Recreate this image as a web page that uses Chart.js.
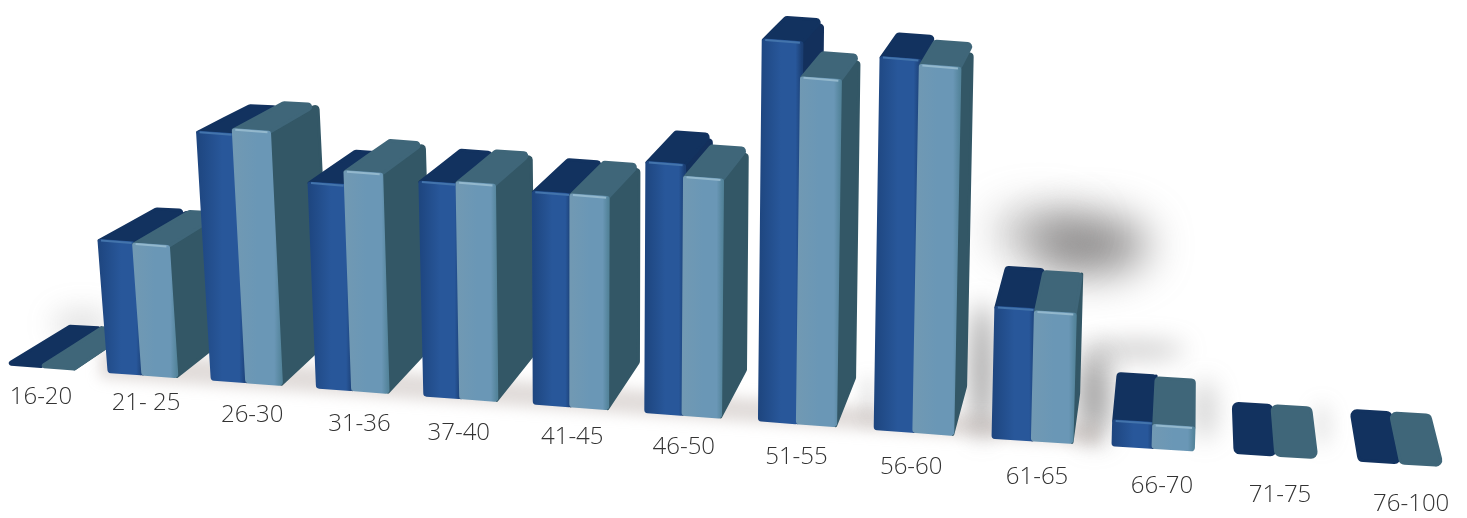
<!DOCTYPE html>
<html>
<head>
<meta charset="utf-8">
<title>Age groups</title>
<script src="https://cdn.jsdelivr.net/npm/chart.js@4/dist/chart.umd.min.js"></script>
<style>
  html, body { margin: 0; padding: 0; background: #ffffff; }
  canvas { display: block; }
</style>
</head>
<body>
<canvas id="ageChart" width="1467" height="518"></canvas>
<script>
const ageGroups = ["16-20", "21- 25", "26-30", "31-36", "37-40", "41-45", "46-50", "51-55", "56-60", "61-65", "66-70", "71-75", "76-100"];
const seriesA = [0, 131, 247, 204, 213, 211, 249, 380, 371, 130, 24, 0, 0];
const seriesB = [0, 130, 252, 218, 215, 211, 237, 345, 366, 128, 22, 0, 0];
const yMax = 400;

// where the labels sit relative to the perspective floor
const labelCenterOffset = [33, 37, 40, 42, 34, 38, 38, 37, 36, 44, 49, 45, 52];
const labelDrop = [33, 32, 36, 37, 38, 34, 36, 37, 39, 40, 41, 43, 44];

const blueFaces = { edge: "#1e4680", mid: "#28579a", dark: "#1b3f74", top: "#12325f", side: "#13305c", shine: "#4374ac" };
const tealFaces = { edge: "#7199b3", mid: "#6a97b6", dark: "#54849b", top: "#3f6679", side: "#335766", shine: "#93b8cd" };

// soft shadows on the paper: x, y, radius x, radius y, opacity, blur
const shadowBlobs = [
  [1090, 245, 58, 28, 0.8, 22],
  [1040, 232, 48, 22, 0.45, 22],
  [1094, 395, 14, 46, 0.75, 14],
  [1135, 350, 50, 8, 0.4, 12],
  [1205, 410, 10, 30, 0.35, 12],
  [982, 370, 10, 68, 0.7, 12],
  [1322, 425, 8, 22, 0.2, 10],
  [82, 324, 30, 14, 0.22, 14],
  [868, 400, 6, 26, 0.2, 8],
];

const floorY = (x) => 364 + 0.0745 * (x - 8) - Math.max(0, x - 1000) * 0.012;
const leanAt = (x) => (560 - x) * (x < 560 ? 0.00017 : 0.00005);

function depthOf(p) {
  const dx = (1200 - p.x) * 0.052;
  const ease = Math.max(0, 1 - p.x / 300) * 6;
  return { x: p.x + dx, y: p.y - (20 + 0.065 * p.y) + ease };
}

// category scale pixel -> position on the slanted floor
function floorXFor(chart) {
  const first = chart.getDatasetMeta(0).data[0];
  const step = chart.scales.x.width / ageGroups.length;
  const origin = first.x - first.width / 2;
  return (u) => {
    const v = (u - origin) / step;
    return 8 + 100 * v + 1.05 * v * v;
  };
}

function tracePath(ctx, pts, radii) {
  const last = pts[pts.length - 1];
  ctx.beginPath();
  ctx.moveTo((last.x + pts[0].x) / 2, (last.y + pts[0].y) / 2);
  pts.forEach((p, i) => {
    const next = pts[(i + 1) % pts.length];
    ctx.arcTo(p.x, p.y, next.x, next.y, radii[i]);
  });
  ctx.closePath();
}

function fillFace(ctx, pts, color, radii) {
  tracePath(ctx, pts, radii);
  ctx.fillStyle = color;
  ctx.strokeStyle = color;
  ctx.lineWidth = 3;
  ctx.lineJoin = "round";
  ctx.fill();
  ctx.stroke();
}

function drawBlock(ctx, left, right, height, faces) {
  const bl = { x: left, y: floorY(left) };
  const br = { x: right, y: floorY(right) };
  const tl = { x: left - height * leanAt(left), y: bl.y - height };
  const tr = { x: right - height * leanAt(right), y: br.y - height };
  const btl = depthOf(tl);
  const btr = depthOf(tr);
  const depth = btr.x - tr.x;

  if (depth > 1.5) {
    const r = depth > 8 ? 3 : 0;
    fillFace(ctx, [tr, br, depthOf(br), btr], faces.side, [0, 0, r, r]);
  }

  if (height > 0) {
    fillFace(ctx, [tl, tr, btr, btl], faces.top, [0, 0, 3, 3]);

    const grad = ctx.createLinearGradient(Math.min(tl.x, bl.x), 0, Math.max(tr.x, br.x), 0);
    grad.addColorStop(0, faces.edge);
    grad.addColorStop(0.5, faces.mid);
    grad.addColorStop(0.85, faces.mid);
    grad.addColorStop(1, faces.dark);
    fillFace(ctx, [tl, tr, br, bl], grad, [1, 1, 2, 2]);

    ctx.beginPath();
    ctx.moveTo(tl.x + 2, tl.y);
    ctx.lineTo(tr.x - 2, tr.y);
    ctx.strokeStyle = faces.shine;
    ctx.lineWidth = 2;
    ctx.stroke();
  } else {
    // flat groups: only the lid shows
    const r = depth > 30 ? 1 : 5;
    fillFace(ctx, [tl, tr, btr, btl], faces.top, [r, r, r, r]);
  }
}

const blocks3d = {
  id: "blocks3d",
  beforeDraw(chart) {
    const { ctx, scales } = chart;
    const floorX = floorXFor(chart);
    const metaA = chart.getDatasetMeta(0).data;

    // tick labels follow the slanted floor
    scales.x.getLabelItems().forEach((item, i) => {
      const groupLeft = floorX(metaA[i].x - metaA[i].width / 2);
      item.options.translation = [groupLeft + labelCenterOffset[i], floorY(groupLeft) + labelDrop[i]];
      item.options.textAlign = "center";
      item.options.textBaseline = "middle";
      item.textOffset = 0;
    });

    ctx.save();
    shadowBlobs.forEach(([x, y, rx, ry, alpha, blur]) => {
      ctx.filter = `blur(${blur}px)`;
      ctx.beginPath();
      ctx.ellipse(x, y, rx, ry, 0, 0, Math.PI * 2);
      ctx.fillStyle = `rgba(110, 108, 108, ${alpha})`;
      ctx.fill();
    });
    // faint halo along the floor
    ctx.filter = "blur(7px)";
    ctx.beginPath();
    ctx.moveTo(100, 350);
    ctx.lineTo(1100, 424);
    ctx.lineTo(1100, 446);
    ctx.lineTo(100, 378);
    ctx.closePath();
    ctx.fillStyle = "rgba(170, 155, 150, 0.35)";
    ctx.fill();
    ctx.restore();
  },
  beforeDatasetsDraw(chart) {
    const { ctx, scales } = chart;
    const metaA = chart.getDatasetMeta(0).data;
    const metaB = chart.getDatasetMeta(1).data;
    const floorX = floorXFor(chart);
    const stretch = yMax / scales.y.height;

    ctx.save();
    ageGroups.forEach((_, i) => {
      [[metaA[i], blueFaces], [metaB[i], tealFaces]].forEach(([bar, faces]) => {
        const left = floorX(bar.x - bar.width / 2);
        const right = floorX(bar.x + bar.width / 2);
        drawBlock(ctx, left, right, (bar.base - bar.y) * stretch, faces);
      });
    });
    ctx.restore();
    return false;
  },
};

new Chart(document.getElementById("ageChart"), {
  type: "bar",
  data: {
    labels: ageGroups,
    datasets: [
      { label: "A", data: seriesA, backgroundColor: blueFaces.mid, categoryPercentage: 0.66, barPercentage: 1 },
      { label: "B", data: seriesB, backgroundColor: tealFaces.mid, categoryPercentage: 0.66, barPercentage: 1 },
    ],
  },
  options: {
    responsive: false,
    animation: false,
    plugins: { legend: { display: false }, tooltip: { enabled: false } },
    scales: {
      x: {
        grid: { display: false },
        border: { display: false },
        ticks: {
          mirror: true,
          autoSkip: false,
          maxRotation: 0,
          color: "#333333",
          font: { family: "'Open Sans', sans-serif", size: 24, weight: "300" },
        },
      },
      y: { display: false, min: 0, max: yMax },
    },
  },
  plugins: [blocks3d],
});
</script>
</body>
</html>
